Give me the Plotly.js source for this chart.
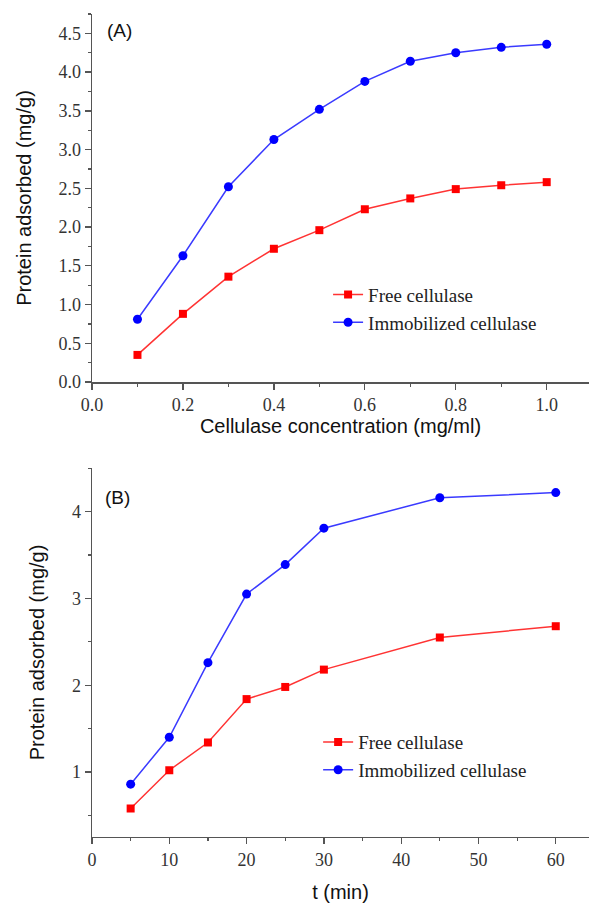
<!DOCTYPE html>
<html>
<head>
<meta charset="utf-8">
<script src="https://cdn.plot.ly/plotly-3.0.1.min.js"></script>
<style>html,body{margin:0;padding:0;background:#fff;}#chart{width:589px;height:904px;}</style>
</head>
<body>
<div id="chart"></div>
<script>
// Panel A: cellulase concentration (mg/ml)
const concA = [0.1, 0.2, 0.3, 0.4, 0.5, 0.6, 0.7, 0.8, 0.9, 1.0];
const freeA = [0.35, 0.88, 1.36, 1.72, 1.96, 2.23, 2.37, 2.49, 2.54, 2.58];
const immobA = [0.81, 1.63, 2.52, 3.13, 3.52, 3.88, 4.14, 4.25, 4.32, 4.36];
// Panel B: time (min)
const timeB = [5, 10, 15, 20, 25, 30, 45, 60];
const freeB = [0.58, 1.02, 1.34, 1.84, 1.98, 2.18, 2.55, 2.68];
const immobB = [0.86, 1.40, 2.26, 3.05, 3.39, 3.81, 4.16, 4.22];

const seriesNames = ['Free cellulase', 'Immobilized cellulase'];
const xTitleA = 'Cellulase concentration (mg/ml)';
const xTitleB = 't (min)';
const yTitle = 'Protein adsorbed (mg/g)';

const RED = '#ff0000', BLUE = '#0000ff';
const RED_LINE = '#ff3333', BLUE_LINE = '#3a3aff';
const serif = '"Liberation Serif", "Times New Roman", serif';
const sans = '"Liberation Sans", Arial, sans-serif';

const traces = [
  {x: concA, y: freeA, name: seriesNames[0], mode: 'lines+markers', xaxis: 'x', yaxis: 'y',
   line: {color: RED_LINE, width: 1.5}, marker: {symbol: 'square', size: 8, color: RED}, legend: 'legend'},
  {x: concA, y: immobA, name: seriesNames[1], mode: 'lines+markers', xaxis: 'x', yaxis: 'y',
   line: {color: BLUE_LINE, width: 1.5}, marker: {symbol: 'circle', size: 9, color: BLUE}, legend: 'legend'},
  {x: timeB, y: freeB, name: seriesNames[0], mode: 'lines+markers', xaxis: 'x2', yaxis: 'y2',
   line: {color: RED_LINE, width: 1.5}, marker: {symbol: 'square', size: 8, color: RED}, legend: 'legend2'},
  {x: timeB, y: immobB, name: seriesNames[1], mode: 'lines+markers', xaxis: 'x2', yaxis: 'y2',
   line: {color: BLUE_LINE, width: 1.5}, marker: {symbol: 'circle', size: 9, color: BLUE}, legend: 'legend2'}
];

const axisCommon = {
  showline: true, linecolor: '#555', linewidth: 1.5, showgrid: false, zeroline: false,
  ticks: 'outside', ticklen: 6, tickwidth: 1.3, tickcolor: '#555',
  tickfont: {family: serif, size: 18, color: '#333'},
  minor: {ticks: 'outside', ticklen: 3, tickwidth: 1.2, tickcolor: '#555', showgrid: false},
  mirror: false
};

const layout = {
  width: 589, height: 904,
  margin: {l: 92, r: 0, t: 0, b: 0},
  paper_bgcolor: '#ffffff', plot_bgcolor: '#ffffff',
  showlegend: true,
  xaxis: Object.assign({}, axisCommon, {
    domain: [0, 1], anchor: 'y', range: [0, 1.093], dtick: 0.2, tick0: 0, tickformat: '.1f',
    minor: Object.assign({}, axisCommon.minor, {dtick: 0.1}),
    title: {text: xTitleA, font: {family: sans, size: 20, color: '#111'}, standoff: 5}
  }),
  yaxis: Object.assign({}, axisCommon, {
    domain: [0.5774, 0.9845], anchor: 'x', range: [0, 4.75], dtick: 0.5, tick0: 0, tickformat: '.1f',
    minor: Object.assign({}, axisCommon.minor, {dtick: 0.25}),
    title: {text: yTitle, font: {family: sans, size: 20, color: '#111'}, standoff: 21}
  }),
  xaxis2: Object.assign({}, axisCommon, {
    domain: [0, 1], anchor: 'y2', range: [0, 64.3], dtick: 10, tick0: 0,
    minor: Object.assign({}, axisCommon.minor, {dtick: 5}),
    title: {text: xTitleB, font: {family: sans, size: 20, color: '#111'}, standoff: 16}
  }),
  yaxis2: Object.assign({}, axisCommon, {
    domain: [0.0745, 0.482], anchor: 'x2', range: [0.255, 4.5], dtick: 1, tick0: 0,
    minor: Object.assign({}, axisCommon.minor, {dtick: 0.5}),
    title: {text: yTitle, font: {family: sans, size: 20, color: '#111'}, standoff: 22}
  }),
  legend: {x: 0.475, y: 0.695, xanchor: 'left', yanchor: 'top', bgcolor: 'rgba(0,0,0,0)',
           font: {family: serif, size: 19, color: '#222'}, tracegroupgap: 0},
  legend2: {x: 0.455, y: 0.2, xanchor: 'left', yanchor: 'top', bgcolor: 'rgba(0,0,0,0)',
            font: {family: serif, size: 19, color: '#222'}, tracegroupgap: 0},
  annotations: [
    {text: '(A)', xref: 'x domain', yref: 'y domain', x: 0.027, y: 0.955, xanchor: 'left', yanchor: 'middle',
     showarrow: false, font: {family: sans, size: 19, color: '#111'}},
    {text: '(B)', xref: 'x2 domain', yref: 'y2 domain', x: 0.023, y: 0.92, xanchor: 'left', yanchor: 'middle',
     showarrow: false, font: {family: sans, size: 19, color: '#111'}}
  ]
};

Plotly.newPlot('chart', traces, layout, {displayModeBar: false, staticPlot: true});
</script>
</body>
</html>
